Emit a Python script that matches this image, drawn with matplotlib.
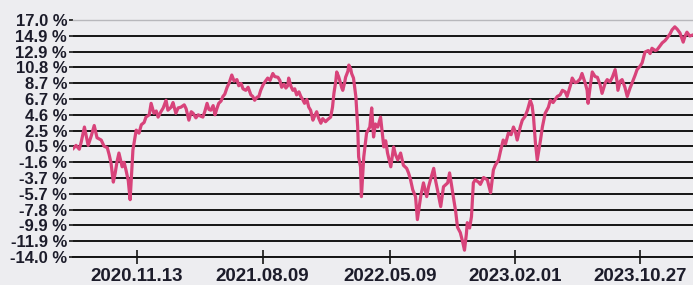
import numpy as np
import pandas as pd
import matplotlib
matplotlib.use('Agg')
import matplotlib.pyplot as plt

# series: days since start date, cumulative return in %
start_date = '2020-06-29'
days = [0, 6, 13, 17, 24, 28, 32, 39, 45, 51, 60, 66, 73, 77, 81, 86, 90, 94, 98, 105,
        109, 113, 118, 122, 126, 128, 135, 141, 146, 152, 156, 163, 167, 173, 178, 182, 188, 193, 199, 203,
        210, 214, 220, 225, 231, 238, 242, 248, 253, 257, 263, 268, 274, 278, 282, 287, 291, 295, 300, 304,
        308, 312, 317, 321, 325, 330, 334, 340, 345, 351, 355, 360, 364, 370, 375, 381, 385, 389, 394, 398,
        402, 407, 411, 417, 422, 428, 432, 439, 443, 447, 452, 456, 460, 462, 467, 471, 475, 479, 484, 488,
        492, 496, 501, 505, 509, 514, 518, 522, 526, 531, 535, 541, 546, 552, 556, 559, 563, 565, 569, 571,
        576, 578, 582, 584, 589, 591, 595, 597, 601, 606, 610, 612, 616, 618, 623, 629, 636, 640, 644, 648,
        653, 659, 666, 670, 674, 681, 687, 691, 696, 702, 708, 715, 719, 723, 728, 734, 738, 745, 751, 758,
        762, 766, 773, 777, 781, 788, 794, 803, 807, 811, 815, 820, 824, 830, 835, 839, 843, 845, 850, 854,
        858, 862, 869, 873, 880, 888, 895, 901, 905, 912, 916, 922, 927, 933, 939, 944, 948, 952, 959, 963,
        969, 974, 980, 984, 987, 991, 995, 1002, 1006, 1012, 1019, 1023, 1029, 1038, 1044, 1049, 1055, 1059, 1066, 1070,
        1076, 1081, 1087, 1091, 1098, 1102, 1104, 1109, 1113, 1119, 1124, 1130, 1134, 1141, 1145, 1151, 1156, 1162, 1166, 1168,
        1173, 1177, 1183, 1188, 1194, 1198, 1205, 1209, 1216, 1220, 1226, 1233, 1237, 1241, 1248, 1252, 1258, 1263, 1269, 1273,
        1280, 1284, 1290, 1295, 1301, 1305, 1308, 1312, 1316, 1322, 1327]
returns = [0.2, 0.6, 0.1, 1.0, 3.0, 1.8, 0.6, 1.9, 3.2, 1.6, 1.3, 0.5, 0.3, -0.6, -1.7, -4.2, -3.0, -1.5, -0.4, -2.2,
           -1.6, -2.6, -4.0, -6.5, -2.0, 0.0, 2.6, 2.2, 3.3, 3.6, 4.3, 4.6, 6.1, 4.8, 5.1, 4.3, 5.0, 5.5, 6.5, 5.2,
           5.6, 6.2, 4.8, 5.5, 5.6, 5.9, 5.4, 3.9, 5.0, 4.8, 4.2, 4.6, 4.4, 4.3, 5.0, 6.1, 5.3, 5.2, 5.8, 4.6,
           5.4, 6.1, 6.4, 7.0, 7.3, 8.2, 8.7, 9.8, 9.0, 9.2, 8.4, 8.7, 8.0, 7.8, 8.2, 7.2, 7.0, 6.5, 6.9, 7.0,
           7.8, 8.5, 8.9, 9.4, 9.1, 10.0, 9.6, 9.5, 9.1, 8.2, 8.6, 8.1, 8.4, 9.4, 8.3, 7.8, 8.0, 7.2, 7.6, 7.0,
           6.6, 6.1, 6.6, 5.6, 5.2, 3.9, 4.5, 5.0, 4.2, 3.5, 4.1, 3.7, 4.0, 4.3, 5.6, 7.4, 9.0, 10.2, 9.6, 9.2,
           8.1, 7.8, 8.8, 9.5, 10.3, 11.1, 10.6, 10.0, 9.4, 7.0, 3.0, -0.9, -2.2, -6.1, -0.9, 2.2, 3.0, 5.5, 1.7, 3.4,
           3.0, 4.3, 0.4, 1.2, -0.4, -2.2, 0.4, -0.6, -1.3, -0.4, -2.0, -2.4, -3.0, -3.8, -5.2, -6.1, -9.1, -6.1, -4.3, -6.1,
           -4.8, -3.9, -2.4, -4.0, -5.2, -7.4, -4.8, -4.3, -3.0, -4.5, -6.1, -8.0, -10.1, -10.8, -12.0, -13.1, -11.0, -9.5, -10.2, -8.7,
           -4.3, -3.9, -4.2, -4.5, -3.6, -3.9, -5.6, -2.6, -2.0, -1.3, -0.2, 1.3, 0.8, 2.2, 2.0, 3.0, 2.4, 1.3, 3.1, 3.9,
           4.4, 5.2, 6.5, 5.8, 4.3, 1.0, -1.3, 1.3, 3.0, 4.8, 5.6, 6.5, 6.2, 7.0, 7.2, 7.8, 7.6, 7.0, 8.4, 9.4,
           8.8, 8.9, 9.3, 10.0, 8.7, 7.8, 6.1, 8.5, 10.2, 9.6, 9.5, 8.5, 7.4, 8.8, 9.2, 8.9, 9.5, 10.5, 9.0, 7.8,
           9.0, 9.2, 8.2, 7.0, 8.1, 8.7, 9.8, 10.5, 11.0, 11.4, 12.8, 13.0, 12.6, 13.3, 13.0, 13.1, 13.6, 14.0, 14.3, 14.6,
           15.2, 15.7, 16.1, 15.8, 15.3, 14.6, 14.1, 14.9, 15.4, 14.9, 15.0]

y_ticks = [17.0, 14.9, 12.9, 10.8, 8.7, 6.7, 4.6, 2.5, 0.5, -1.6, -3.7, -5.7, -7.8, -9.9, -11.9, -14.0]
x_ticks = ['2020.11.13', '2021.08.09', '2022.05.09', '2023.02.01', '2023.10.27']
x_end = 1329

dates = pd.Timestamp(start_date) + pd.to_timedelta(days, unit='D')
y_vals = np.linspace(y_ticks[-1], y_ticks[0], len(y_ticks))[::-1]

bg = '#ededf0'
fig = plt.figure(figsize=(6.93, 2.85), dpi=100, facecolor=bg)
ax = fig.add_axes([0.105, 0.098, 0.895, 0.832], facecolor=bg)

ax.hlines(y_vals[1:], 0, 1, transform=ax.get_yaxis_transform(), colors='#151515', linewidth=1.4, zorder=1)
ax.plot(dates, returns, color='#d8437a', linewidth=2.3, zorder=3)

ax.set_ylim(y_vals[-1], y_vals[0])
ax.set_xlim(pd.Timestamp(start_date) - pd.Timedelta(days=1), pd.Timestamp(start_date) + pd.Timedelta(days=x_end))
ax.set_yticks(y_vals)
ax.set_yticklabels(['%.1f %%' % v for v in y_ticks])
ax.set_xticks([pd.Timestamp(t.replace('.', '-')) for t in x_ticks])
ax.set_xticklabels(x_ticks)

for s in ['left', 'right']:
    ax.spines[s].set_visible(False)
ax.spines['top'].set_color('#b8b8bc')
ax.spines['top'].set_linewidth(1.0)
ax.spines['bottom'].set_color('#151515')
ax.spines['bottom'].set_linewidth(1.4)

ax.tick_params(axis='y', length=3, width=1.2, color='#151515', pad=1,
               labelsize=12, labelcolor='#1c1c2a')
ax.tick_params(axis='x', direction='inout', length=10, width=1.2, color='#151515', pad=3,
               labelsize=13.5, labelcolor='#1c1c2a')
for lab in ax.get_yticklabels() + ax.get_xticklabels():
    lab.set_fontfamily('Liberation Sans')
    lab.set_fontweight('bold')

fig.savefig('out.png', dpi=100, facecolor=bg)
